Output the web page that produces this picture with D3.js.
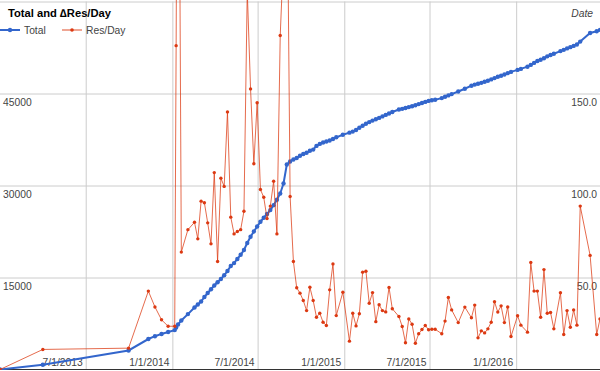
<!DOCTYPE html>
<html>
<head>
<meta charset="utf-8">
<script src="https://cdn.jsdelivr.net/npm/d3@7"></script>
<style>
body { margin: 0; background: #fff; }
svg { display: block; font-family: Arial, "Liberation Sans", sans-serif; }
</style>
</head>
<body>
<svg id="chart" width="600" height="371"></svg>
<script>
// weekly snapshots (a few irregular ones early on)
var dates = [
  "2012-12-31","2013-04-01","2013-09-30","2013-11-11","2013-11-25","2013-12-09","2013-12-23",
  "2014-01-06","2014-01-09","2014-01-13","2014-01-20","2014-02-03","2014-02-17","2014-02-24",
  "2014-03-03","2014-03-10","2014-03-17","2014-03-24","2014-03-31","2014-04-07","2014-04-14",
  "2014-04-21","2014-04-28","2014-05-05","2014-05-12","2014-05-19","2014-05-26","2014-06-02",
  "2014-06-09","2014-06-16","2014-06-23","2014-06-30","2014-07-07","2014-07-14","2014-07-21",
  "2014-07-28","2014-08-04","2014-08-11","2014-08-18","2014-08-25","2014-09-01","2014-09-08",
  "2014-09-15","2014-09-22","2014-09-29","2014-10-06","2014-10-13","2014-10-20","2014-10-27",
  "2014-11-03","2014-11-10","2014-11-17","2014-11-24","2014-12-01","2014-12-08","2014-12-15",
  "2014-12-29","2015-01-12","2015-01-19","2015-01-26","2015-02-02","2015-02-09","2015-02-16",
  "2015-02-23","2015-03-02","2015-03-09","2015-03-16","2015-03-23","2015-03-30","2015-04-06",
  "2015-04-13","2015-04-27","2015-05-04","2015-05-11","2015-05-18","2015-05-25","2015-06-01",
  "2015-06-08","2015-06-15","2015-06-22","2015-06-29","2015-07-06","2015-07-13","2015-07-27",
  "2015-08-03","2015-08-10","2015-08-17","2015-08-31","2015-09-14","2015-09-28","2015-10-05",
  "2015-10-12","2015-10-19","2015-10-26","2015-11-02","2015-11-09","2015-11-16","2015-11-23",
  "2015-11-30","2015-12-07","2015-12-14","2015-12-21","2016-01-04","2016-01-11","2016-01-25",
  "2016-02-01","2016-02-08","2016-02-15","2016-02-22","2016-02-29","2016-03-07","2016-03-14",
  "2016-03-21","2016-04-04","2016-04-11","2016-04-18","2016-04-25","2016-05-02","2016-05-09",
  "2016-05-16","2016-06-06","2016-06-20","2016-06-27"
];

var totals = [
  0, 780, 3100, 4970, 5430, 5800, 6110,
  6420, 6850, 7340, 7990, 9030, 10110, 10600,
  11090, 11820, 12470, 13080, 13700, 14220, 14760,
  15360, 16060, 16880, 17350, 18020, 18700, 19480,
  20630, 21640, 22500, 23320, 24080, 24750, 25350,
  25990, 26800, 27670, 28700, 30330, 33420, 33910,
  34240, 34480, 34840, 35140, 35330, 35660, 35850,
  36460, 36780, 37010, 37170, 37340, 37580, 37860,
  38280, 38620, 38790, 39060, 39420, 39750, 40060,
  40340, 40580, 40810, 41020, 41270, 41510, 41740,
  41980, 42390, 42500, 42640, 42780, 42930, 43090,
  43270, 43450, 43630, 43790, 43910, 43990, 44250,
  44460, 44690, 44900, 45330, 45770, 46270, 46450,
  46600, 46740, 46910, 47090, 47300, 47510, 47720,
  47900, 48110, 48320, 48520, 48850, 49010, 49370,
  49660, 49990, 50310, 50510, 50740, 51060, 51280,
  51490, 51910, 52120, 52350, 52560, 52760, 53000,
  53460, 54860, 55140, 55380
];

var resPerDay = [
  0, 10.9, 11.6, 42.6, 34, 27, 23.5,
  23.5, 176, 410, 63.8, 76, 80, 71,
  91.5, 90.6, 79.7, 68.3, 107, 58.7, 104,
  99.5, 140, 82.8, 73.7, 75, 76, 86,
  206, 152.5, 111.8, 145, 97.8, 93.6, 82,
  88.8, 102.3, 73.7, 181.5, 225, 290, 94,
  58.7, 44.4, 41.5, 37.5, 32, 44.7, 37.5,
  28.4, 30.6, 25.7, 23.9, 43.3, 57.4, 29.3,
  42, 15.4, 30.6, 23.7, 30.3, 52.9, 53.4,
  36, 41.8, 26, 35.2, 32, 31.3, 44.6,
  33, 28.8, 23.4, 14.5, 27.5, 24.6, 14.3,
  19.4, 21.7, 23.9, 21.6, 21.9, 21.9, 19.4,
  26.3, 39.1, 32.4, 25.5, 33.9, 28.1, 35,
  17.2, 21, 19.9, 22.1, 25.7, 36.8, 31.2,
  34.6, 25.5, 34, 17.9, 29.2, 24.1, 20.3,
  58.2, 42.6, 42.6, 28.4, 54.3, 30.6, 31,
  22.1, 41.7, 19, 32, 23, 32.4, 24.1,
  88.8, 62, 19, 27.5
];

var dateTicks = ["2013-07-01","2014-01-01","2014-07-01","2015-01-01","2015-07-01","2016-01-01"];
var totalGrid = [15000, 30000, 45000, 60000];
var totalTicks = [15000, 30000, 45000];
var resTicks = [50, 100, 150];

var parse = d3.utcParse("%Y-%m-%d");
var rows = dates.map(function(d, i){
    return {date: parse(d), total: totals[i], res: resPerDay[i]};
});

var plotW = 600, plotBottom = 369.5, plotTop = 1.5;
var svg = d3.select("#chart");

var x = d3.scaleUtc()
        .domain(d3.extent(rows, function(d){ return d.date; }))
        .range([0, plotW]);
var yLeft = d3.scaleLinear().domain([0, 60000]).range([plotBottom, plotTop]);
var yRight = d3.scaleLinear().domain([0, 200]).range([plotBottom, plotTop]);

svg.append("defs").append("clipPath").attr("id", "plot")
    .append("rect").attr("x", 0).attr("y", 0).attr("width", plotW).attr("height", 370);

// vertical gridlines + date labels
var xAxis = svg.append("g")
        .attr("transform", "translate(0," + plotBottom + ")")
        .call(d3.axisBottom(x)
            .tickValues(dateTicks.map(parse))
            .tickSize(-(plotBottom - plotTop))
            .tickFormat(d3.utcFormat("%-m/%-d/%Y")));
xAxis.select(".domain").remove();
xAxis.selectAll("line").attr("stroke", "#cccccc");
xAxis.selectAll("text")
    .attr("text-anchor", "end")
    .attr("x", -3.5)
    .attr("y", -3.5)
    .attr("dy", 0)
    .attr("fill", "#444")
    .style("font-size", "10.3px");

// horizontal gridlines
var grid = svg.append("g")
        .call(d3.axisLeft(yLeft).tickValues(totalGrid).tickSize(-plotW).tickFormat(""));
grid.select(".domain").remove();
grid.selectAll("line").attr("stroke", "#cccccc");

// left labels (inside)
var leftAxis = svg.append("g")
        .call(d3.axisLeft(yLeft).tickValues(totalTicks).tickSize(0).tickFormat(d3.format("d")));
leftAxis.select(".domain").remove();
leftAxis.selectAll("text")
    .attr("text-anchor", "start")
    .attr("x", 3)
    .attr("dy", 0)
    .attr("y", 11.5)
    .attr("fill", "#444")
    .style("font-size", "10.3px");

// right labels (inside)
var rightAxis = svg.append("g")
        .attr("transform", "translate(" + plotW + ",0)")
        .call(d3.axisRight(yRight).tickValues(resTicks).tickSize(0).tickFormat(d3.format(".1f")));
rightAxis.select(".domain").remove();
rightAxis.selectAll("text")
    .attr("text-anchor", "end")
    .attr("x", -3)
    .attr("dy", 0)
    .attr("y", 11.5)
    .attr("fill", "#444")
    .style("font-size", "10.3px");

// baseline
svg.append("line")
    .attr("x1", 0).attr("x2", plotW)
    .attr("y1", plotBottom).attr("y2", plotBottom)
    .attr("stroke", "#333");

var plot = svg.append("g").attr("clip-path", "url(#plot)");

var totalLine = d3.line()
        .x(function(d){ return x(d.date); })
        .y(function(d){ return yLeft(d.total); });
var resLine = d3.line()
        .x(function(d){ return x(d.date); })
        .y(function(d){ return yRight(d.res); });

plot.append("path")
    .datum(rows)
    .attr("d", totalLine)
    .attr("fill", "none")
    .attr("stroke", "#3366cc")
    .attr("stroke-width", 2);
plot.selectAll(".totalPt")
    .data(rows).enter().append("circle")
    .attr("class", "totalPt")
    .attr("cx", function(d){ return x(d.date); })
    .attr("cy", function(d){ return yLeft(d.total); })
    .attr("r", 2.2)
    .attr("fill", "#3366cc");

plot.append("path")
    .datum(rows)
    .attr("d", resLine)
    .attr("fill", "none")
    .attr("stroke", "#dc3912")
    .attr("stroke-opacity", 0.75)
    .attr("stroke-width", 1);
plot.selectAll(".resPt")
    .data(rows).enter().append("circle")
    .attr("class", "resPt")
    .attr("cx", function(d){ return x(d.date); })
    .attr("cy", function(d){ return yRight(d.res); })
    .attr("r", 1.7)
    .attr("fill", "#dc3912");

// title, legend, axis title
svg.append("text")
    .attr("x", 8).attr("y", 17)
    .attr("fill", "#000")
    .style("font-size", "11.2px")
    .style("font-weight", "bold")
    .text("Total and \u2206Res/Day");

var legend = [
    {name: "Total", color: "#3366cc", x: 0, w: 2, r: 2.2, op: 1},
    {name: "Res/Day", color: "#dc3912", x: 62, w: 2, r: 1.8, op: 0.45}
];
var lg = svg.selectAll(".legend").data(legend).enter().append("g")
        .attr("class", "legend")
        .attr("transform", function(d){ return "translate(" + d.x + ",30)"; });
lg.append("line")
    .attr("x1", 0).attr("x2", 20)
    .attr("stroke", function(d){ return d.color; })
    .attr("stroke-opacity", function(d){ return d.op; })
    .attr("stroke-width", function(d){ return d.w; });
lg.append("circle")
    .attr("cx", 10).attr("r", function(d){ return d.r; })
    .attr("fill", function(d){ return d.color; });
lg.append("text")
    .attr("x", 24).attr("y", 3.8)
    .attr("fill", "#444")
    .style("font-size", "10.3px")
    .text(function(d){ return d.name; });

svg.append("text")
    .attr("x", 593).attr("y", 17)
    .attr("text-anchor", "end")
    .attr("fill", "#444")
    .style("font-size", "10.3px")
    .style("font-style", "italic")
    .text("Date");
</script>
</body>
</html>
